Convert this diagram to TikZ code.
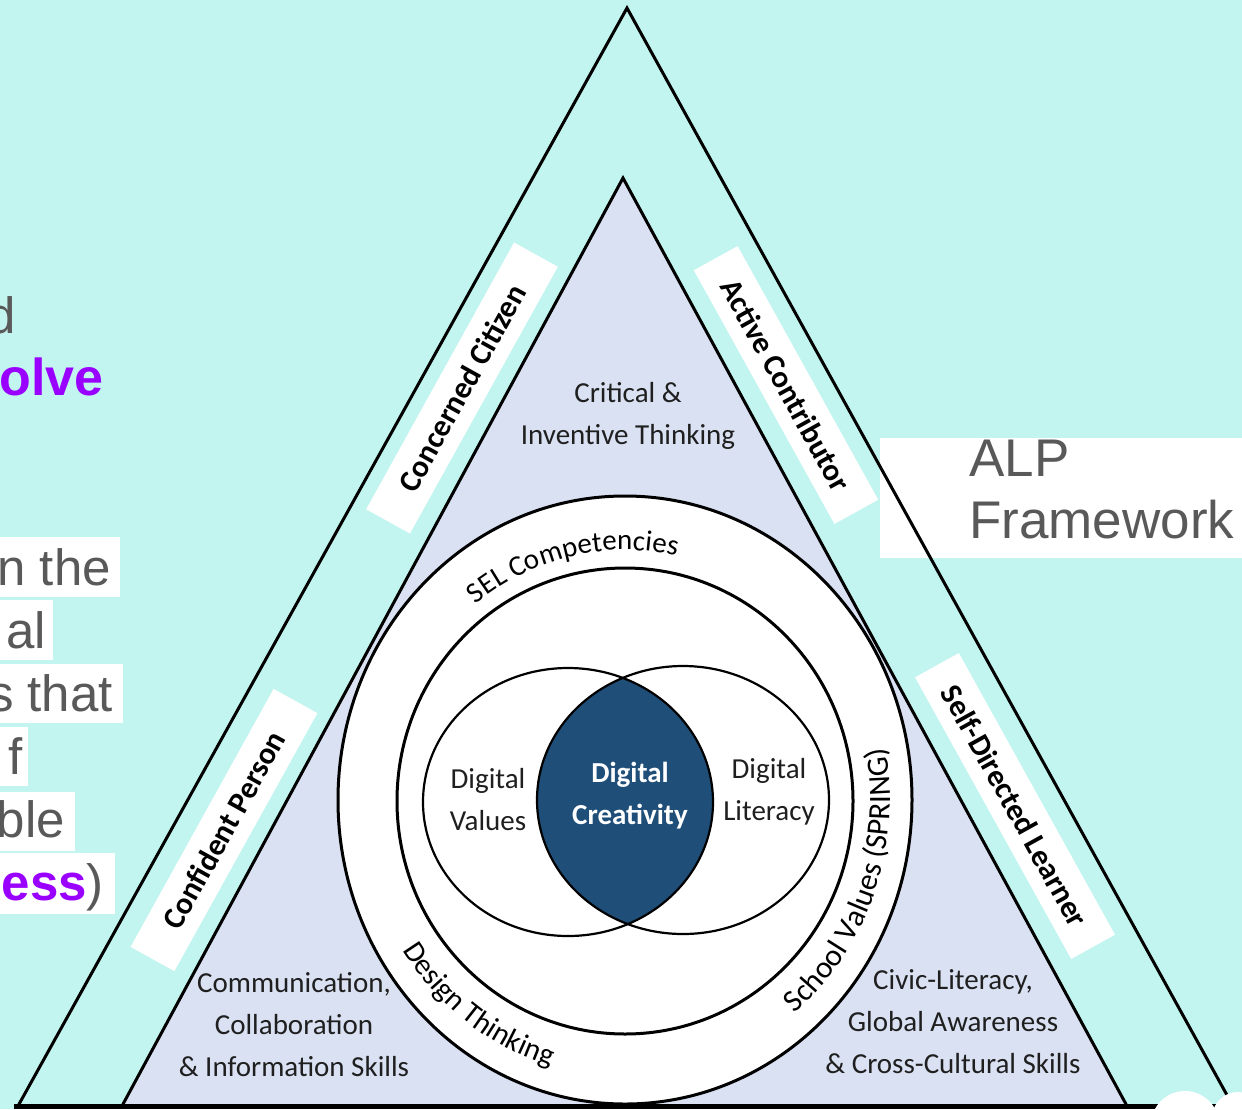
\documentclass[tikz,border=0pt]{standalone}
\usepackage{fontspec}
\setmainfont{Carlito}
\newfontfamily\arialf{Liberation Sans}
\usetikzlibrary{decorations.text}
\definecolor{bgcyan}{HTML}{C3F5F0}
\definecolor{lav}{HTML}{D9E1F2}
\definecolor{lensblue}{HTML}{1F4E79}
\definecolor{slidegray}{HTML}{595959}
\definecolor{slidepurple}{HTML}{9900FF}
\begin{document}
\begin{tikzpicture}[x=1pt,y=1pt,
  triline/.style={draw=black, line width=3pt, line join=miter},
  bandlabel/.style={fill=white, minimum height=50pt, inner sep=0pt,
    font=\fontsize{31}{31}\selectfont\bfseries, text=black},
  lbl/.style={align=center, font=\fontsize{29}{42}\selectfont, inner sep=0pt, text=black!88},
  venntext/.style={align=center, font=\fontsize{29}{42}\selectfont, inner sep=0pt, text=black!88},
  slide/.style={font=\arialf\fontsize{51}{51}\selectfont, text=slidegray, inner sep=0pt, anchor=base east},
  alptext/.style={font=\arialf\fontsize{53}{53}\selectfont, text=slidegray, inner sep=0pt, anchor=base west},
  ringline/.style={draw=black, line width=3pt, fill=white},
  vennline/.style={draw=black, line width=2.2pt},
  ringtext/.style={decorate, decoration={text along path, text align=center, text={#1}}}]

\useasboundingbox (0,0) rectangle (1242,-1109);
\fill[bgcyan] (0,0) rectangle (1242,-1109);

% ALP framework box
\fill[white] (880,-438) rectangle (1242,-558);
\node[alptext] (alp) at (969,-476) {ALP};
\node[alptext] (fw) at (969,-538) {Framework};

% triangles
\filldraw[fill=lav, triline] (122,-1106) -- (623,-178) -- (1127,-1106) -- cycle;
\draw[triline] (18,-1106) -- (627,-8) -- (1233,-1106);
\draw[line width=5pt] (14,-1106) -- (1237,-1106);

% band labels
\node[bandlabel, minimum width=305pt, rotate=61] (cc) at (462,-388) {Concerned Citizen};
\node[bandlabel, minimum width=295pt, rotate=61] (cp) at (224,-830) {Confident Person};
\node[bandlabel, minimum width=290pt, rotate=-61] (ac) at (786,-385) {Active Contributor};
\node[bandlabel, minimum width=322pt, rotate=-61] (sdl) at (1015,-806) {Self-Directed Learner};

% rings
\draw[ringline] (625,-800) ellipse [x radius=287, y radius=304];
\draw[ringline] (625,-801) ellipse [x radius=228, y radius=233];

% venn
\begin{scope}
  \clip (568,-802) ellipse [x radius=145, y radius=134];
  \fill[lensblue] (683,-800) ellipse [x radius=146, y radius=134];
\end{scope}
\draw[vennline] (568,-802) ellipse [x radius=145, y radius=134];
\draw[vennline] (683,-800) ellipse [x radius=146, y radius=134];

% venn labels
\node[venntext] (dv) at (488,-800) {Digital\\Values};
\node[venntext] (dl) at (769,-792) {Digital\\Literacy};
\node[venntext, text=white, font=\fontsize{29}{42}\selectfont\bfseries] (dc) at (630,-796) {Digital\\Creativity};

% triangle area labels
\node[lbl] (crit) at (628,-416) {Critical \&\\Inventive Thinking};
\node[lbl] (comm) at (294,-1025) {Communication,\\Collaboration\\\& Information Skills};
\node[lbl] (civic) at (953,-1022) {Civic-Literacy,\\Global Awareness\\\& Cross-Cultural Skills};

% ring texts
\path[ringtext={|\fontsize{29}{29}\selectfont|SEL Competencies}]
  ([shift={(162.7:240 and 250)}]625,-800) arc [start angle=162.7, end angle=42.7, x radius=240, y radius=250];
\path[ringtext={|\fontsize{30}{30}\selectfont|Design Thinking}]
  ([shift={(174:265 and 277)}]625,-800) arc [start angle=174, end angle=294, x radius=265, y radius=277];
\path[ringtext={|\fontsize{31}{31}\selectfont|School Values (SPRING)}]
  ([shift={(-80:265 and 277)}]625,-800) arc [start angle=-80, end angle=40, x radius=265, y radius=277];

% slide text fragments on the left
\node[slide] (s1) at (16,-333) {d};
\node[slide, text=slidepurple, font=\arialf\bfseries\fontsize{52}{52}\selectfont] (s2) at (104,-395) {olve};
\fill[white] (0,-537) rectangle (120,-597);
\fill[white] (0,-600) rectangle (53,-660);
\fill[white] (0,-664) rectangle (123,-723);
\fill[white] (0,-727) rectangle (28,-786);
\fill[white] (0,-792) rectangle (75,-851);
\fill[white] (0,-853) rectangle (115,-914);
\node[slide] (s3) at (111,-585) {n the};
\node[slide] (s4) at (46,-648) {al};
\node[slide] (s5) at (113,-711) {s that};
\node[slide] (s6) at (23,-774) {f};
\node[slide] (s7) at (65,-837) {ble};
\node[slide] (s8) at (104,-900) {{\color{slidepurple}\bfseries ess})};

% bottom-right white blobs
\begin{scope}
  \clip (0,0) rectangle (1242,-1109);
  \fill[white] (1185,-1125) circle (34);
  \fill[white] (1238,-1118) circle (26);
\end{scope}
\end{tikzpicture}
\end{document}
